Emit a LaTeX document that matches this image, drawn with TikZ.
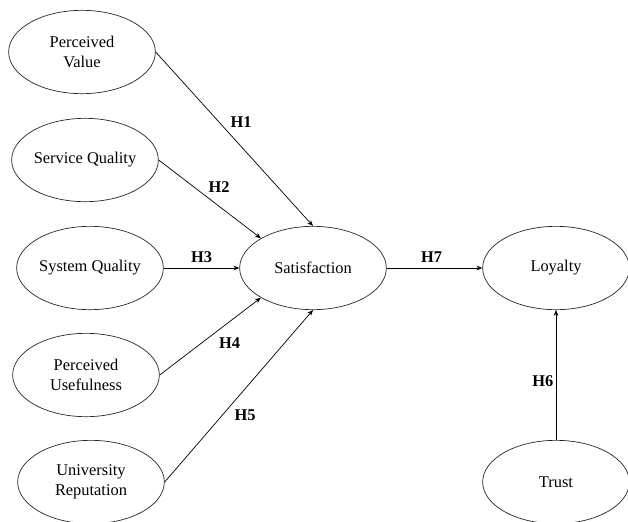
\documentclass[tikz,border=0pt]{standalone}
\usepackage{fontspec}
\setmainfont{Liberation Serif}
\usetikzlibrary{arrows.meta,shapes.geometric}

\begin{document}
\begin{tikzpicture}[x=0.03cm,y=-0.03cm,line width=0.6pt,
            >={Stealth[length=5pt,width=4pt]},
            construct/.style={ellipse,draw=black!85,inner sep=0pt,
              minimum width=4.4cm,minimum height=2.5cm,align=center,
              font=\fontsize{14}{17}\selectfont},
            hyp/.style={inner sep=2pt,font=\fontsize{14}{17}\selectfont\bfseries}]
            \useasboundingbox (0,0) rectangle (628,521);
            \node[construct](pv) at (82,52){Perceived\\Value};
            \node[construct](sq) at (85,160){Service Quality};
            \node[construct](sysq) at (90,268){System Quality};
            \node[construct](pu) at (86,375){Perceived\\Usefulness};
            \node[construct](ur) at (91,482){University\\Reputation};
            \node[construct](sat) at (313,268){Satisfaction};
            \node[construct](loy) at (556,268){Loyalty};
            \node[construct](trust) at (556,482){Trust};
            \draw[->](pv.east)--(sat.north)node[hyp,pos=0.4,right=8pt]{H1};
            \draw[->](sq.east)--(sat.north west)node[hyp,pos=0.59,above=9pt]{H2};
            \draw[->](sysq.east)--(sat.west)node[hyp,pos=0.5,above=2pt]{H3};
            \draw[->](pu.east)--(sat.south west)node[hyp,pos=0.69,below=11pt]{H4};
            \draw[->](ur.east)--(sat.south)node[hyp,pos=0.39,right=8pt]{H5};
            \draw[->](trust.north)--(loy.south)node[hyp,pos=0.45,left=0pt]{H6};
            \draw[->](sat.east)--(loy.west)node[hyp,pos=0.47,above=2pt]{H7};
        \end{tikzpicture}
\end{document}
